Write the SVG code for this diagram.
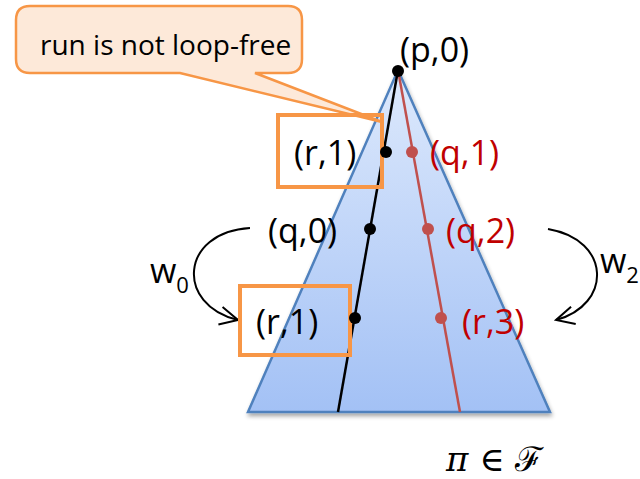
<svg xmlns="http://www.w3.org/2000/svg" width="640" height="479" viewBox="0 0 640 479">
<defs>
<linearGradient id="tg" x1="0" y1="0" x2="0" y2="1">
<stop offset="0" stop-color="#dde9fc"/>
<stop offset="1" stop-color="#a3c1f5"/>
</linearGradient>
<filter id="sh" x="-10%" y="-10%" width="120%" height="130%">
<feGaussianBlur in="SourceAlpha" stdDeviation="2"/>
<feOffset dx="1" dy="3"/>
<feComponentTransfer><feFuncA type="linear" slope="0.35"/></feComponentTransfer>
<feMerge><feMergeNode/><feMergeNode in="SourceGraphic"/></feMerge>
</filter>
<marker id="ah" viewBox="0 0 24 24" refX="22" refY="12" markerWidth="24" markerHeight="24" markerUnits="userSpaceOnUse" orient="auto">
<path d="M4,3 L22,12 L4,21" fill="none" stroke="#000" stroke-width="2"/>
</marker>
<style>
text{font-family:"Open Sans","Liberation Sans",sans-serif;font-size:34px;fill:#000}
.r{fill:#c00000}
.box{fill:none;stroke:#f79646;stroke-width:4}
.bd{fill:#000}
.rd{fill:#c0504d}
</style>
</defs>
<g id="triangle">
<polygon points="398,70 550,412 248,412" fill="url(#tg)" stroke="#4f81bd" stroke-width="2.5" filter="url(#sh)"/>
</g>
<g id="connectors">
<line x1="398" y1="70" x2="338" y2="412" stroke="#000" stroke-width="2.5"/>
<line x1="398" y1="70" x2="460" y2="412" stroke="#c0504d" stroke-width="2.5"/>
<path d="M250,228 C180,232 175,305 238,320" fill="none" stroke="#000" stroke-width="2" marker-end="url(#ah)"/>
<path d="M548,229 C612,240 612,305 556,320" fill="none" stroke="#000" stroke-width="2" marker-end="url(#ah)"/>
</g>
<g id="callout">
<path d="M30,6 H288 Q302,6 302,20 V59 Q302,73 288,73 H255 L382,122 L180,73 H30 Q16,73 16,59 V20 Q16,6 30,6 Z" fill="#fde9d9" stroke="#f79646" stroke-width="2.5"/>
<text x="40" y="55" style="font-size:28px">run is not loop-free</text>
</g>
<g id="p0">
<circle cx="398" cy="71" r="6" class="bd"/>
<text x="400" y="62">(p,0)</text>
</g>
<g id="r1top">
<rect x="278" y="115" width="104" height="72" class="box"/>
<circle cx="386" cy="152" r="6" class="bd"/>
<text x="294" y="165">(r,1)</text>
</g>
<g id="q1">
<circle cx="412" cy="152" r="6" class="rd"/>
<text x="430" y="165" class="r">(q,1)</text>
</g>
<g id="q0">
<circle cx="370" cy="229" r="6" class="bd"/>
<text x="268" y="243">(q,0)</text>
</g>
<g id="q2">
<circle cx="428" cy="229" r="6" class="rd"/>
<text x="446" y="243" class="r">(q,2)</text>
</g>
<g id="r1bottom">
<rect x="240" y="286" width="110" height="69" class="box"/>
<circle cx="355" cy="318" r="6" class="bd"/>
<text x="256" y="334">(r,1)</text>
</g>
<g id="r3">
<circle cx="441" cy="318" r="6" class="rd"/>
<text x="462" y="334" class="r">(r,3)</text>
</g>
<g id="w0">
<text x="150" y="283">w<tspan font-size="22" dy="10">0</tspan></text>
</g>
<g id="w2">
<text x="600" y="273">w<tspan font-size="22" dy="10">2</tspan></text>
</g>
<g id="formula">
<text x="446" y="471" style="font-family:'DejaVu Serif','Liberation Serif',serif;font-size:34px"><tspan font-style="italic">π</tspan> ∈ ℱ</text>
</g>
</svg>
